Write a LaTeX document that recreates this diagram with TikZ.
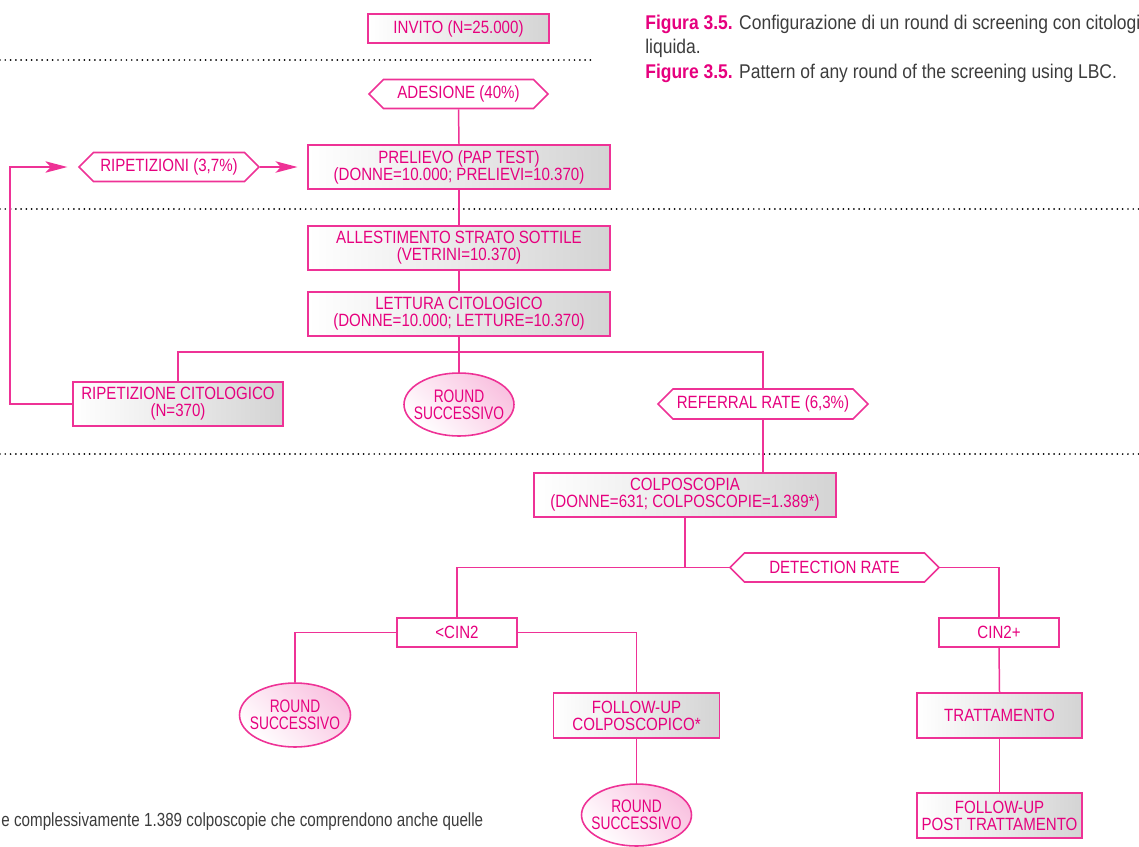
\documentclass[tikz,border=0pt]{standalone}
\usepackage{fontspec}
\setmainfont[FakeStretch=0.85]{Liberation Sans}
\newfontfamily\capfont[FakeStretch=0.88]{Liberation Sans}
\newfontfamily\notafont[FakeStretch=0.8]{Liberation Sans}
\newfontfamily\ellfont[FakeStretch=0.76]{Liberation Sans}
\usepackage{tikz}
\usetikzlibrary{positioning,shapes.geometric,shapes.symbols,arrows.meta}
\definecolor{mag}{RGB}{230,0,126}
\definecolor{linea}{RGB}{238,50,150}
\definecolor{testo}{RGB}{60,60,60}
\tikzset{
    % caselle grigie
    box/.style={
        draw=linea, line width=1pt,
        left color=white, right color=black!17,
        text=mag, align=center, inner sep=1pt,
        minimum width=6.04cm, minimum height=0.88cm,
        font=\fontsize{10.1}{9.6}\selectfont
    },
    % caselle bianche
    whitebox/.style={
        draw=linea, line width=1pt, fill=white,
        text=mag, inner sep=1pt,
        minimum width=2.4cm, minimum height=0.58cm,
        font=\fontsize{10.1}{9.6}\selectfont
    },
    % esagoni
    hexa/.style={
        shape=signal, signal to=west and east, signal pointer angle=90,
        draw=linea, line width=0.9pt, fill=white,
        text=mag, inner sep=1pt, minimum height=0.58cm,
        font=\fontsize{10.1}{9.6}\selectfont
    },
    % ellissi
    roundnode/.style={
        ellipse, draw=linea, line width=0.9pt,
        left color=white, right color=mag!24, shading angle=135,
        text=mag, align=center, inner ysep=0pt, inner xsep=-6pt,
        minimum width=2.2cm, minimum height=1.26cm,
        font=\ellfont\fontsize{10.3}{9.6}\selectfont
    },
    conn/.style={draw=linea, line width=0.85pt},
    arrowconn/.style={
        conn, -{Stealth[length=12.5pt, width=6.5pt, inset=3pt]}
    },
    captext/.style={anchor=west, inner sep=0pt, text=testo,
        font=\capfont\fontsize{11.3}{12}\selectfont},
    dots/.style={line width=1.1pt, line cap=round, dash pattern=on 0pt off 3pt}
}

\begin{document}
\begin{tikzpicture}[x=0.02cm, y=-0.02cm]
\useasboundingbox (0,0) rectangle (1139,846);

% ===================== didascalia =====================
\node[captext] (capit) at (645,24)
    {\textcolor{mag}{\bfseries Figura 3.5.} Configurazione di un round di screening con citologi};
\node[captext] (capit2) at (645,48) {liquida.};
\node[captext] (capen) at (645,73)
    {\textcolor{mag}{\bfseries Figure 3.5.} Pattern of any round of the screening using LBC.};

% linee punteggiate
\draw[dots] (0,60) -- (595,60);
\draw[dots] (0,209) -- (1139,209);
\draw[dots] (0,454) -- (1139,454);

% ===================== parte alta =====================
\node[box, minimum width=3.62cm, minimum height=0.58cm] (invito) at (458.5,28.5) {INVITO (N=25.000)};
\node[hexa, minimum width=3.58cm] (adesione) at (458.5,94) {ADESIONE (40\%)};
\node[box] (prelievo) at (459,167) {PRELIEVO (PAP TEST)\\(DONNE=10.000; PRELIEVI=10.370)};
\node[hexa, minimum width=3.6cm] (ripetizioni) at (169,167) {RIPETIZIONI (3,7\%)};
\node[box] (allestimento) at (459,248) {ALLESTIMENTO STRATO SOTTILE\\(VETRINI=10.370)};
\node[box] (lettura) at (459,314) {LETTURA CITOLOGICO\\(DONNE=10.000; LETTURE=10.370)};

\node[box, minimum width=4.2cm] (ripcito) at (178,404) {RIPETIZIONE CITOLOGICO\\(N=370)};
\node[roundnode] (round1) at (459,404.5) {ROUND\\SUCCESSIVO};
\node[hexa, minimum width=4.2cm, minimum height=0.6cm] (referral) at (763,404) {REFERRAL RATE (6,3\%)};

\coordinate (j1) at (459,352);
\coordinate (angolo) at (10,404);

\draw[conn] (adesione.south) -- (prelievo.north);
\draw[arrowconn, shorten >=5.5pt] (ripetizioni.east) -- (prelievo.west);
\draw[conn] (prelievo.south) -- (allestimento.north);
\draw[conn] (allestimento.south) -- (lettura.north);
\draw[conn] (lettura.south) -- (round1.north);
\draw[conn] (ripcito.north) |- (j1) -| (referral.north);
\draw[arrowconn, shorten >=6pt] (ripcito.west) -- (angolo) |- (ripetizioni.west);

% ===================== colposcopia =====================
\node[box] (colpo) at (685,495) {COLPOSCOPIA\\(DONNE=631; COLPOSCOPIE=1.389*)};
\node[hexa, minimum width=4.18cm] (detection) at (834.5,567.5) {DETECTION RATE};
\node[whitebox] (cinlow) at (457,632.5) {<CIN2};
\node[whitebox] (cinhigh) at (999,632.5) {CIN2+};

\node[roundnode, minimum width=2.22cm, minimum height=1.28cm] (round2) at (295,715) {ROUND\\SUCCESSIVO};
\node[box, minimum width=3.32cm, minimum height=0.9cm] (followup) at (636.5,715.5) {FOLLOW-UP\\COLPOSCOPICO*};
\node[box, minimum width=3.3cm, minimum height=0.9cm] (trattamento) at (999.5,715.5) {TRATTAMENTO};
\node[roundnode, minimum height=1.24cm] (round3) at (636.5,815) {ROUND\\SUCCESSIVO};
\node[box, minimum width=3.3cm, minimum height=0.9cm] (posttratt) at (999.5,815.5) {FOLLOW-UP\\POST TRATTAMENTO};

\draw[conn] (referral.south) -- (referral.south |- colpo.north);
\draw[conn] (colpo.south) -- (colpo.south |- detection.west);
\draw[conn] (cinlow.north) |- (detection.west);
\draw[conn] (detection.east) -| (cinhigh.north);
\draw[conn] (cinlow.west) -| (round2.north);
\draw[conn] (cinlow.east) -| (followup.north);
\draw[conn] (followup.south) -- (round3.north);
\draw[conn] (cinhigh.south) -- (trattamento.north);
\draw[conn] (trattamento.south) -- (posttratt.north);

% nota
\node[anchor=west, inner sep=0pt, text=testo, font=\notafont\fontsize{10.8}{12}\selectfont] (nota) at (1,822)
    {\makebox[9.64cm][s]{e complessivamente 1.389 colposcopie che comprendono anche quelle}};
\end{tikzpicture}
\end{document}
